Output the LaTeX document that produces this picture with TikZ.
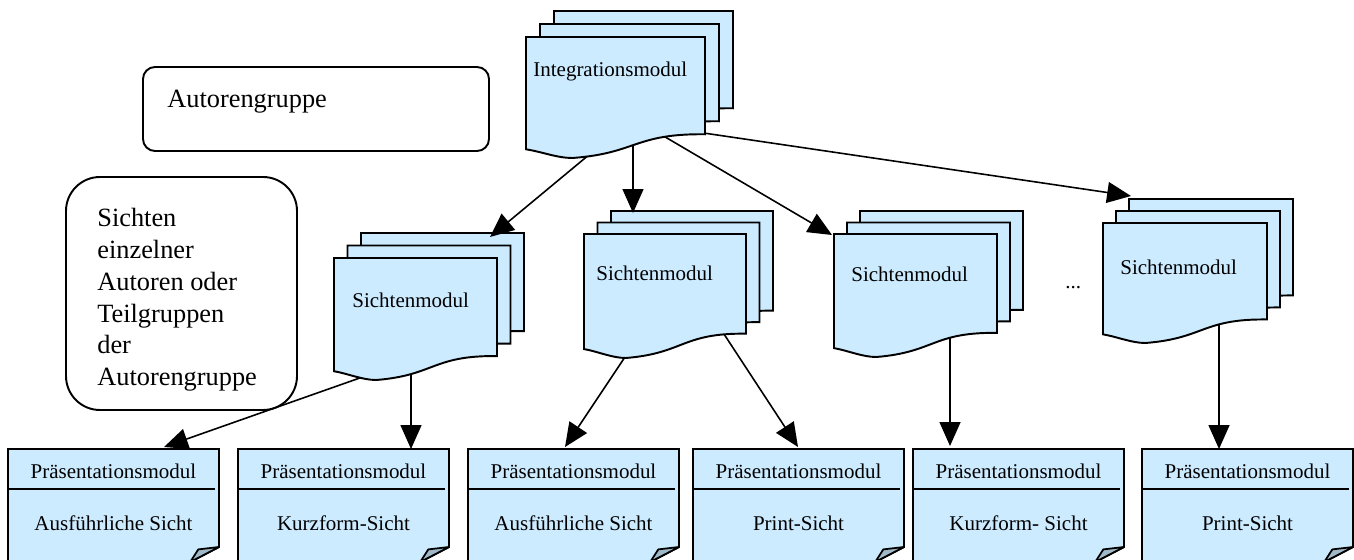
\documentclass[tikz,border=0pt]{standalone}
\usepackage{fontspec}
\setmainfont{Liberation Serif}
\usetikzlibrary{arrows.meta}
\definecolor{pagefill}{RGB}{204,235,255}
\definecolor{foldfill}{RGB}{160,185,200}
\tikzset{
  page/.style={draw=black, fill=pagefill, line width=1.1pt, line join=miter},
  fold/.style={draw=black, fill=foldfill, line width=1pt, line join=round},
  frame/.style={draw=black, line width=1.1pt},
  link/.style={draw=black, line width=0.9pt, -{Triangle[length=13.6pt,width=11.9pt]}},
  modtext/.style={inner sep=0pt, font=\fontsize{11.95}{14}\selectfont},
  bigtext/.style={inner sep=0pt, font=\fontsize{15}{18.1}\selectfont},
}
% one sheet with a wavy lower edge: left x, top y, width, height
\newcommand\docpage[4]{%
  \draw[page] ({#1},{#2}) -- ({#1+#3},{#2}) -- ({#1+#3},{#2+0.804*#4})
    .. controls ({#1+0.604*#3},{#2+0.797*#4}) and ({#1+0.618*#3},{#2+0.962*#4}) .. ({#1+0.258*#3},{#2+#4})
    .. controls ({#1+0.174*#3},{#2+#4}) and ({#1+0.081*#3},{#2+0.946*#4}) .. ({#1},{#2+0.928*#4}) -- cycle;}
% three stacked sheets: front x, front y, width, height, shift right, shift up
\newcommand\docstack[6]{%
  \docpage{#1+2*#5}{#2-2*#6}{#3}{#4}%
  \docpage{#1+#5}{#2-#6}{#3}{#4}%
  \docpage{#1}{#2}{#3}{#4}}
% presentation card with title bar and folded corner: name, left x, view text
\newcommand\presbox[3]{%
  \draw[page] ({#2},449) -- ({#2+211},449) -- ({#2+211},547) -- ({#2+170.6},568) -- ({#2},568) -- cycle;
  \draw[fold] ({#2+211},547) -- ({#2+190.3},549.4) -- ({#2+182.2},562) -- cycle;
  \draw[line width=1.1pt] ({#2},489) -- ({#2+207},489);
  \node[modtext, anchor=base] (#1-title) at ({#2+105.5},478) {Präsentationsmodul};
  \node[modtext, anchor=base] (#1-view) at ({#2+105.5},530) {#3};}

\begin{document}
\begin{tikzpicture}[x=0.02cm,y=-0.02cm]
\useasboundingbox (0,0) rectangle (1354,560);
\clip (0,0) rectangle (1354,560);

% legend boxes
\draw[frame, rounded corners=0.24cm] (143,67) rectangle (489,151);
\node[bigtext, anchor=base west] (grp) at (167,108) {Autorengruppe};
\draw[frame, rounded corners=0.68cm] (66,177) rectangle (297,410);
\node[bigtext, anchor=north west, align=left] (views) at (97,208)
  {Sichten\\einzelner\\Autoren oder\\Teilgruppen\\der\\Autorengruppe};

% presentation modules
\presbox{p1}{8}{Ausführliche Sicht}
\presbox{p2}{238}{Kurzform-Sicht}
\presbox{p3}{468}{Ausführliche Sicht}
\presbox{p4}{693}{Print-Sicht}
\presbox{p5}{913}{Kurzform- Sicht}
\presbox{p6}{1142}{Print-Sicht}

% links from the view modules down to the presentation modules
\coordinate (s1-o1) at (370,374.4);  \coordinate (p1-in) at (164,447);
\coordinate (s1-o2) at (411,365);    \coordinate (p2-in) at (411,449);
\coordinate (s2-o1) at (629,351);    \coordinate (p3-in) at (565,447);
\coordinate (s2-o2) at (720,328);    \coordinate (p4-in) at (798,447);
\coordinate (s3-o1) at (950,330);    \coordinate (p5-in) at (950,446);
\coordinate (s4-o1) at (1219,318);   \coordinate (p6-in) at (1219,449);
\draw[link] (s1-o1) -- (p1-in);
\draw[link] (s1-o2) -- (p2-in);
\draw[link] (s2-o1) -- (p3-in);
\draw[link] (s2-o2) -- (p4-in);
\draw[link] (s3-o1) -- (p5-in);
\draw[link] (s4-o1) -- (p6-in);

% view modules
\docstack{334}{258}{163}{122}{13.5}{12.5}
\node[modtext, anchor=base west] (s1) at (352,307) {Sichtenmodul};
\docstack{584}{234}{162}{124}{13.5}{11.5}
\node[modtext, anchor=base west] (s2) at (596,280) {Sichtenmodul};
\docstack{834}{234}{163}{123}{13}{11.5}
\node[modtext, anchor=base west] (s3) at (851,281) {Sichtenmodul};
\docstack{1103}{223}{164}{120}{13}{12}
\node[modtext, anchor=base west] (s4) at (1120,275) {Sichtenmodul};
\node[modtext, anchor=base west] (dots) at (1065,289) {...};

% links from the integration module to the view modules
\coordinate (i-o1) at (596,149);  \coordinate (s1-in) at (490,237);
\coordinate (i-o2) at (633,140);  \coordinate (s2-in) at (633,213);
\coordinate (i-o3) at (655,131);  \coordinate (s3-in) at (832,235);
\coordinate (i-o4) at (690,131);  \coordinate (s4-in) at (1131,196);
\draw[link] (i-o1) -- (s1-in);
\draw[link] (i-o2) -- (s2-in);
\draw[link] (i-o3) -- (s3-in);
\draw[link] (i-o4) -- (s4-in);

% integration module
\docstack{526}{37}{179}{121}{14}{13}
\node[modtext, anchor=base west] (int) at (533,77) {Integrationsmodul};
\end{tikzpicture}
\end{document}
